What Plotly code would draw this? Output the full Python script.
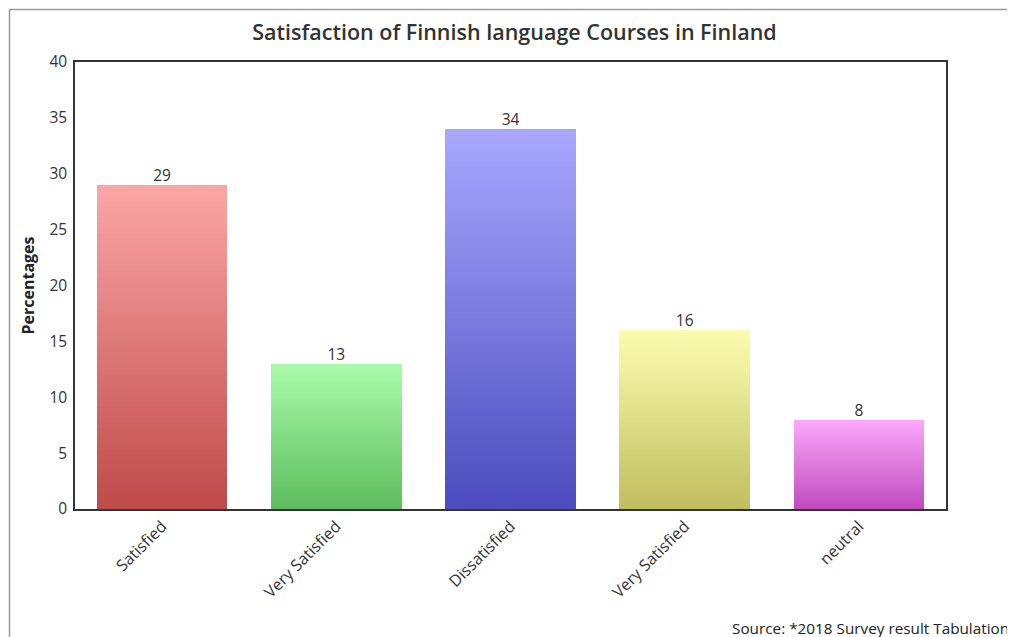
import plotly.graph_objects as go

categories = ["Satisfied", "Very Satisfied", "Dissatisfied", "Very Satisfied", "neutral"]
values = [29, 13, 34, 16, 8]
y_ticks = [0, 5, 10, 15, 20, 25, 30, 35, 40]

# gradient colours per bar (top, bottom)
top_colors = [(252, 166, 166), (170, 252, 170), (168, 168, 255), (253, 253, 177), (252, 168, 252)]
bottom_colors = [(191, 74, 74), (93, 189, 93), (75, 75, 190), (192, 190, 94), (191, 74, 191)]

N_STEPS = 60
FONT = "Open Sans, Noto Sans, sans-serif"
W, H = 1007, 629  # page body adds an 8px margin
L, R, T, B = 67, 69, 54, 128
PW, PH = W - L - R, H - T - B


def mix(c1, c2, t):
    return "rgb(%d,%d,%d)" % tuple(round(a + (b - a) * t) for a, b in zip(c1, c2))


xpos = list(range(len(categories)))
fig = go.Figure()

# each bar is a stack of thin slices so it can fade from bottom colour to top colour
for k in range(N_STEPS):
    t = (k + 0.5) / N_STEPS
    fig.add_trace(go.Bar(
        x=xpos,
        y=[v / N_STEPS for v in values],
        marker=dict(color=[mix(bottom_colors[i], top_colors[i], t) for i in range(len(values))],
                    line=dict(width=0)),
        hoverinfo="skip",
        showlegend=False,
    ))

fig.add_trace(go.Scatter(
    x=xpos, y=values, mode="text", text=[str(v) for v in values],
    textposition="top center", textfont=dict(size=15.5, color="#333333", family=FONT),
    showlegend=False, hoverinfo="skip",
))

fig.update_layout(
    width=W, height=H,
    barmode="stack", bargap=0.25,
    plot_bgcolor="white", paper_bgcolor="white",
    margin=dict(l=L, r=R, t=T, b=B),
    font=dict(family=FONT, color="#333333", size=15),
    title=dict(text="Satisfaction of Finnish language Courses in Finland",
               x=506.5 / W, xanchor="center", y=1 - 24 / H, yanchor="middle",
               font=dict(size=21.5, color="#333333", family=FONT, weight=600)),
    xaxis=dict(tickmode="array", tickvals=xpos, ticktext=categories, tickangle=-45,
               range=[-0.5, len(categories) - 0.5], showgrid=False, zeroline=False,
               showline=True, linecolor="#333333", linewidth=1.5, mirror=True,
               tickfont=dict(size=16, color="#333333")),
    yaxis=dict(range=[0, 40], tickvals=y_ticks, showgrid=False, zeroline=False,
               showline=True, linecolor="#333333", linewidth=1.5, mirror=True,
               ticks="outside", ticklen=3, tickcolor="white",
               tickfont=dict(size=15.5, color="#333333"),
               title=dict(text="<b>Percentages</b>", font=dict(size=16, color="#222222"), standoff=11)),
    annotations=[dict(text="Source: *2018 Survey result Tabulation", xref="paper", yref="paper",
                      x=(1003 - L) / PW, y=(H - B - 620) / PH, xanchor="right", yanchor="middle",
                      showarrow=False, font=dict(size=15.3, color="#222222"))],
    shapes=[dict(type="rect", xref="paper", yref="paper",
                 x0=(1.5 - L) / PW, x1=1.2, y0=-0.4, y1=(H - B - 1.5) / PH,
                 line=dict(color="#9a9a9a", width=1.5), layer="below")],
)

fig.write_html("out.html")
